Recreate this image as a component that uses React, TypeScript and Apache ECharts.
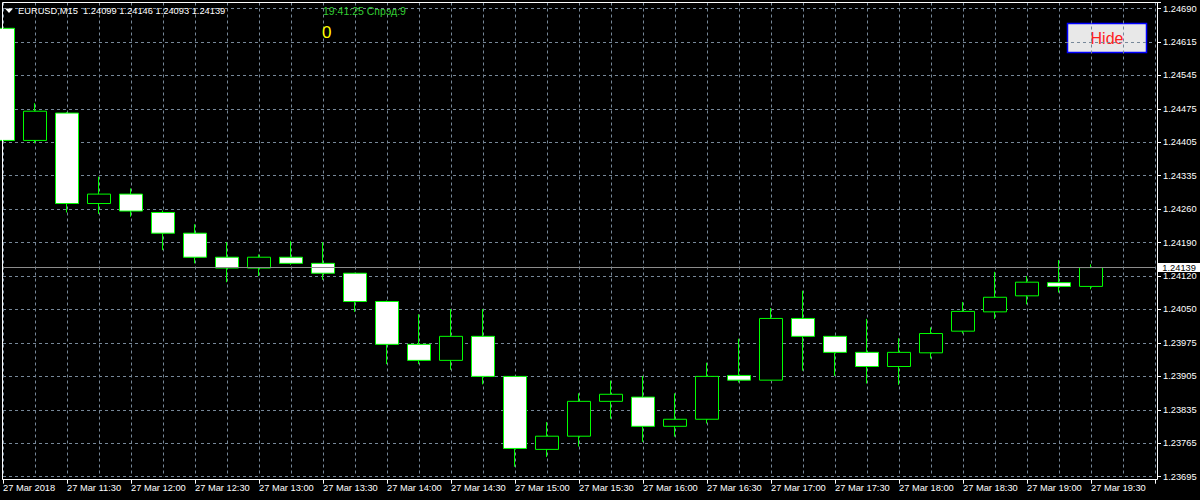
import React, { useEffect, useRef } from "react";
import * as echarts from "echarts";

// ---- data ----
const TIMES = [
  "11:00", "11:15", "11:30", "11:45", "12:00", "12:15", "12:30", "12:45",
  "13:00", "13:15", "13:30", "13:45", "14:00", "14:15", "14:30", "14:45",
  "15:00", "15:15", "15:30", "15:45", "16:00", "16:15", "16:30", "16:45",
  "17:00", "17:15", "17:30", "17:45", "18:00", "18:15", "18:30", "18:45",
  "19:00", "19:15", "19:30", "19:45", "20:00",
];

// labels shown on every second category (index 0, 2, 4, ...)
const X_TICK_LABELS = [
  "27 Mar 2018", "27 Mar 11:30", "27 Mar 12:00", "27 Mar 12:30", "27 Mar 13:00",
  "27 Mar 13:30", "27 Mar 14:00", "27 Mar 14:30", "27 Mar 15:00", "27 Mar 15:30",
  "27 Mar 16:00", "27 Mar 16:30", "27 Mar 17:00", "27 Mar 17:30", "27 Mar 18:00",
  "27 Mar 18:30", "27 Mar 19:00", "27 Mar 19:30",
];

const Y_TICK_LABELS = [
  "1.23695", "1.23765", "1.23835", "1.23905", "1.23975", "1.24050", "1.24120",
  "1.24190", "1.24260", "1.24335", "1.24405", "1.24475", "1.24545", "1.24615", "1.24690",
];

const OPEN = [
  1.24647, 1.24409, 1.24467, 1.24275, 1.24295, 1.24256, 1.24212, 1.24161, 1.24138,
  1.24161, 1.24148, 1.24127, 1.24067, 1.23976, 1.23942, 1.23993, 1.23908, 1.23753,
  1.23781, 1.23855, 1.23864, 1.23802, 1.23817, 1.2391, 1.239, 1.24031, 1.23993,
  1.23959, 1.23929, 1.23958, 1.24004, 1.24045, 1.24079, 1.24107, 1.24099,
];
const HIGH = [
  1.24652, 1.24488, 1.24469, 1.24332, 1.24307, 1.2426, 1.24231, 1.24193, 1.24167,
  1.24195, 1.24193, 1.24128, 1.24069, 1.2404, 1.24051, 1.24051, 1.23909, 1.23811,
  1.23872, 1.23899, 1.23909, 1.23872, 1.23937, 1.23988, 1.24053, 1.2409, 1.23994,
  1.2403, 1.23989, 1.24012, 1.24066, 1.2413, 1.24121, 1.24155, 1.24146,
];
const LOW = [
  1.24355, 1.24403, 1.24256, 1.24253, 1.24247, 1.24176, 1.24148, 1.24108, 1.24121,
  1.24145, 1.24113, 1.24045, 1.23934, 1.23934, 1.23922, 1.23891, 1.23716, 1.23737,
  1.23759, 1.23818, 1.23769, 1.2378, 1.23808, 1.23895, 1.23899, 1.2392, 1.23909,
  1.23893, 1.2389, 1.23946, 1.23999, 1.2403, 1.24061, 1.24086, 1.24093,
];
const CLOSE = [
  1.24409, 1.24471, 1.24275, 1.24295, 1.24259, 1.24212, 1.24161, 1.24138, 1.24161,
  1.24148, 1.24127, 1.24067, 1.23976, 1.23942, 1.23993, 1.23908, 1.23755, 1.23781,
  1.23855, 1.2387, 1.23802, 1.23817, 1.23908, 1.239, 1.24031, 1.23993, 1.23959,
  1.23929, 1.23959, 1.23999, 1.24046, 1.24076, 1.24108, 1.24099, 1.24139,
];

const SYMBOL = "EURUSD,M15";
const SERVER_TIME = "19:41:25 Спрэд:9";
const COUNTER = "0";

// axis scale
const Y_MIN = 1.23695;
const Y_STEP = 0.00071;
const Y_MAX = 1.247018;

const FONT = "Liberation Sans, Arial, sans-serif";

export default function App() {
  const ref = useRef<HTMLDivElement>(null);

  useEffect(() => {
    if (!ref.current) return;
    const chart = echarts.init(ref.current, null, { renderer: "svg" });
    const last = OPEN.length - 1;
    const currentPrice = CLOSE[last];
    const header = `${SYMBOL}  ${OPEN[last].toFixed(5)} ${HIGH[last].toFixed(5)} ${LOW[last].toFixed(5)} ${CLOSE[last].toFixed(5)}`;
    const candles = OPEN.map((o, i) => [o, CLOSE[i], LOW[i], HIGH[i]]);

    const gridLine = { color: "#778899", width: 1, type: [3, 3] as any };

    chart.setOption({
      animation: false,
      backgroundColor: "#000000",
      grid: {
        left: 3,
        right: 45,
        top: 2.5,
        bottom: 23.3,
        outerBoundsMode: "none",
        containLabel: false,
      },
      xAxis: {
        type: "category",
        data: TIMES,
        boundaryGap: false,
        offset: 3,
        axisLine: { show: true, lineStyle: { color: "#ffffff", width: 1 } },
        axisTick: { show: true, interval: 1, length: 4, lineStyle: { color: "#ffffff" } },
        axisLabel: {
          interval: 1,
          align: "left",
          margin: 4,
          color: "#ffffff",
          fontFamily: FONT,
          fontSize: 9.3,
          formatter: (_v: string, idx: number) =>
            idx % 2 === 0 ? X_TICK_LABELS[idx / 2] ?? "" : "",
        },
        splitLine: { show: true, interval: 0, lineStyle: gridLine },
      },
      yAxis: {
        type: "value",
        position: "right",
        min: Y_MIN,
        max: Y_MAX,
        interval: Y_STEP,
        scale: true,
        offset: 2,
        axisLine: { show: false },
        axisTick: { show: true, length: 4, lineStyle: { color: "#ffffff" } },
        axisLabel: {
          margin: 6,
          color: "#ffffff",
          fontFamily: FONT,
          fontSize: 9.3,
          formatter: (v: number) => {
            const k = Math.round((v - Y_MIN) / Y_STEP);
            if (Math.abs(v - (Y_MIN + k * Y_STEP)) > Y_STEP * 0.05) return "";
            return Y_TICK_LABELS[k] ?? "";
          },
        },
        splitLine: { show: true, lineStyle: gridLine },
      },
      series: [
        {
          type: "candlestick",
          data: candles,
          barWidth: 23,
          clip: true,
          itemStyle: {
            color: "#000000",
            color0: "#ffffff",
            borderColor: "#00ff00",
            borderColor0: "#00ff00",
            borderWidth: 1,
          },
          markLine: {
            silent: true,
            precision: 5,
            symbol: ["none", "none"],
            lineStyle: { color: "#8c8c8c", type: "solid", width: 1 },
            label: {
              show: true,
              position: "end",
              distance: 2.3,
              formatter: () => currentPrice.toFixed(5),
              color: "#000000",
              backgroundColor: "#ffffff",
              padding: [1, 5, 0, 5],
              lineHeight: 8,
              fontFamily: FONT,
              fontSize: 9.3,
            },
            data: [{ yAxis: currentPrice }],
          },
        },
      ],
      graphic: [
        {
          type: "rect",
          z: 100,
          silent: true,
          shape: { x: 2.5, y: 2.5, width: 1155, height: 477 },
          style: { fill: "none", stroke: "#ffffff", lineWidth: 1 },
        },
        {
          type: "polygon",
          z: 100,
          shape: { points: [[5, 8.5], [13, 8.5], [9, 13]] },
          style: { fill: "#ffffff" },
        },
        {
          type: "text",
          z: 100,
          x: 18,
          y: 11,
          style: {
            text: header,
            fill: "#ffffff",
            fontFamily: FONT,
            fontSize: 9.3,
            verticalAlign: "middle",
          },
        },
        {
          type: "text",
          z: 100,
          x: 323,
          y: 10.7,
          style: {
            text: SERVER_TIME,
            fill: "#32cd32",
            fontFamily: FONT,
            fontSize: 10.5,
            verticalAlign: "middle",
          },
        },
        {
          type: "text",
          z: 100,
          x: 322,
          y: 32.5,
          style: {
            text: COUNTER,
            fill: "#ffff00",
            fontFamily: FONT,
            fontSize: 17,
            verticalAlign: "middle",
          },
        },
        {
          type: "group",
          z: 100,
          children: [
            {
              type: "rect",
              shape: { x: 1067.5, y: 23.5, width: 79, height: 29 },
              style: { fill: "#e8e8e8", stroke: "#0000ff", lineWidth: 1.5 },
            },
            {
              type: "text",
              x: 1107,
              y: 38.5,
              style: {
                text: "Hide",
                fill: "#ff2020",
                fontFamily: FONT,
                fontSize: 16,
                align: "center",
                verticalAlign: "middle",
              },
            },
          ],
        },
      ],
    });

    return () => chart.dispose();
  }, []);

  return (
    <div
      ref={ref}
      style={{ position: "absolute", left: 0, top: 0, width: 1200, height: 500 }}
    />
  );
}
